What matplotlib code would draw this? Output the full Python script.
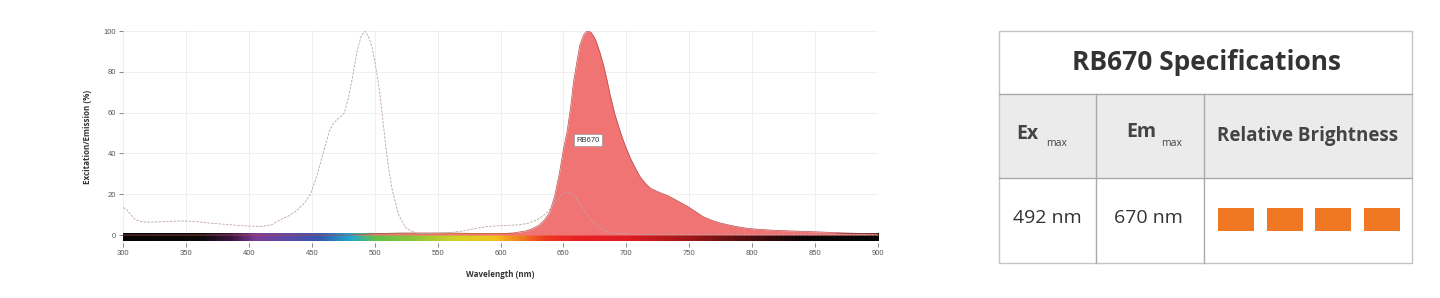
import numpy as np
import matplotlib.pyplot as plt
from matplotlib.colors import LinearSegmentedColormap
from matplotlib.patches import Rectangle

# excitation spectrum (dashed)
ex_wl = [300, 303, 306, 310, 315, 320, 330, 340, 350, 360, 370, 380, 390, 400, 410, 418, 425,
         432, 438, 444, 449, 454, 459, 464, 467, 470, 473, 476, 479, 482, 486, 489, 492, 495,
         498, 501, 504, 508, 511, 514, 519, 522, 525, 529, 533, 540, 550, 560, 570, 580, 590,
         600, 608, 615, 622, 627, 632, 637, 642, 647, 650, 653, 656, 660, 664, 668, 673, 678,
         684, 690, 700, 720, 750, 800, 900]
ex_val = [13.5, 12.5, 10, 7.5, 6.5, 6.3, 6.5, 6.8, 6.9, 6.5, 5.8, 5.3, 4.8, 4.4, 4.2, 5, 7.5,
          9.5, 12, 15.5, 20, 29, 40, 51, 54.5, 56.5, 58, 60, 67, 76, 90, 97, 100, 97.5,
          92, 82, 70, 48, 33, 22, 10, 6.5, 3.5, 2, 0.9, 0.8, 0.9, 1.2, 2, 3.2, 4.2,
          4.6, 4.8, 5, 5.8, 7, 8.5, 11, 14.7, 18.5, 20.5, 21.2, 20.5, 18, 14.5, 10.5, 6.5, 4,
          1.8, 1, 0.5, 0.3, 0.2, 0.1, 0.1]

# emission spectrum (filled)
em_wl = [300, 480, 500, 520, 540, 560, 580, 600, 610, 615, 620, 625, 631, 635, 639, 643, 647,
         650, 653, 656, 658, 661, 663, 666, 668, 670, 672, 674, 676, 679, 682, 685, 687, 691,
         695, 699, 703, 707, 711, 715, 719, 724, 728, 733, 737, 742, 748, 755, 761, 768, 774,
         781, 788, 795, 801, 815, 827, 840, 854, 870, 880, 900]
em_val = [0, 0, 0.7, 1, 1, 1, 0.8, 0.7, 1, 1.5, 2, 3, 5, 7.5, 11, 19, 31,
          42, 51, 64, 75, 86, 93, 98, 99.6, 100, 99.3, 97.5, 95, 89.5, 83, 75, 69, 59,
          51, 44, 38, 33, 28.5, 25.5, 23, 21.5, 20.5, 19.3, 18, 16.3, 14.3, 11.5, 9, 7.2, 6,
          5, 4.1, 3.4, 3, 2.4, 2.1, 1.8, 1.5, 1.1, 0.9, 0.6]

dye_name = 'RB670'
ex_max = '492 nm'
em_max = '670 nm'
brightness = 4

# visible spectrum strip
strip_wl = [300, 360, 385, 405, 430, 455, 480, 500, 530, 565, 595, 615, 635, 660, 700, 750, 800, 840, 900]
strip_col = ['#050505', '#0a0a0a', '#3a1440', '#7d3c98', '#5a4aa8', '#3458b0', '#21a8cf', '#5fc04a',
             '#8cc43a', '#d4d226', '#f2c21e', '#f1801f', '#ec3a22', '#e82024', '#e01c22', '#a01818',
             '#4a0d0d', '#0d0505', '#050505']

plt.rcParams['font.family'] = ['Open Sans', 'DejaVu Sans']

fig = plt.figure(figsize=(14.4, 2.98), dpi=100)

# ---- table (pixel coordinates) ----
tax = fig.add_axes([0, 0, 1, 1])
tax.set_xlim(0, 1440)
tax.set_ylim(298, 0)
tax.axis('off')

line_c = '#a9a9a9'
tax.add_patch(Rectangle((999, 94), 413, 84, facecolor='#ebebeb', edgecolor='none'))
tax.add_patch(Rectangle((999, 31), 413, 232, facecolor='none', edgecolor='#c4c4c4', lw=1))
tax.plot([999, 1412], [94, 94], color=line_c, lw=1)
tax.plot([999, 1412], [178, 178], color=line_c, lw=1)
tax.plot([1096, 1096], [94, 263], color=line_c, lw=1)
tax.plot([1204, 1204], [94, 263], color=line_c, lw=1)

txt_c = '#333333'
hdr_c = '#444444'
tax.text(1206.5, 63, f'{dye_name} Specifications', ha='center', va='center',
         fontsize=19, fontweight='bold', color=txt_c)
tax.text(1016, 134, 'Ex', ha='left', va='center', fontsize=14, fontweight='bold', color=hdr_c)
tax.text(1046, 144, 'max', ha='left', va='center', fontsize=7.5, color=hdr_c)
tax.text(1126, 132, 'Em', ha='left', va='center', fontsize=14, fontweight='bold', color=hdr_c)
tax.text(1161, 144, 'max', ha='left', va='center', fontsize=7.5, color=hdr_c)
tax.text(1308, 136, 'Relative Brightness', ha='center', va='center', fontsize=13.5,
         fontweight='bold', color=hdr_c)
tax.text(1047, 218, ex_max, ha='center', va='center', fontsize=14, color=txt_c)
tax.text(1148.5, 218, em_max, ha='center', va='center', fontsize=14, color=txt_c)
for i in range(brightness):
    tax.add_patch(Rectangle((1218 + i * 48.7, 208), 36, 23, facecolor='#f07822', edgecolor='none'))

# ---- spectrum chart ----
ax = fig.add_axes([123 / 1440, 1 - 243.2 / 298, 755 / 1440, (243.2 - 31) / 298])
ax.patch.set_alpha(0)
ax.set_xlim(300, 900)
ax.set_ylim(-4, 100)

cmap = LinearSegmentedColormap.from_list(
    'vis', [((w - 300) / 600, c) for w, c in zip(strip_wl, strip_col)])
grad = np.linspace(0, 1, 600)[None, :]
ax.imshow(grad, aspect='auto', cmap=cmap, extent=(300, 900, -3, 0.5), zorder=1)

ax.fill_between(em_wl, em_val, 0, color='#f07474', lw=0, zorder=2)
ax.plot(em_wl, em_val, color='#b84a4a', lw=0.5, zorder=3)
ax.plot(ex_wl, ex_val, color='#bfa3a3', lw=0.6, ls=(0, (3, 1.5)), zorder=4)

ax.text(669.5, 46.5, dye_name, ha='center', va='center', fontsize=5.5, color='#333333',
        family=['Liberation Sans', 'DejaVu Sans'],
        bbox=dict(boxstyle='square,pad=0.35', facecolor='white', edgecolor='#999999', lw=0.5),
        zorder=5)

ax.set_xticks(range(300, 901, 50))
ax.set_yticks(range(0, 101, 20))
ax.grid(True, color='#ececec', lw=0.6, zorder=0)
ax.set_axisbelow(True)
for s in ax.spines.values():
    s.set_visible(False)
ax.tick_params(axis='both', labelsize=5.5, colors='#555555', length=3, width=0.5, pad=2)
for lab in ax.get_xticklabels() + ax.get_yticklabels():
    lab.set_family(['Liberation Sans', 'DejaVu Sans'])
ax.set_xlabel('Wavelength (nm)', fontsize=5.8, fontweight='bold', color='#333333', labelpad=9)
ax.set_ylabel('Excitation/Emission (%)', fontsize=5.8, fontweight='bold', color='#333333', labelpad=8)

fig.savefig('out.png', dpi=100)
